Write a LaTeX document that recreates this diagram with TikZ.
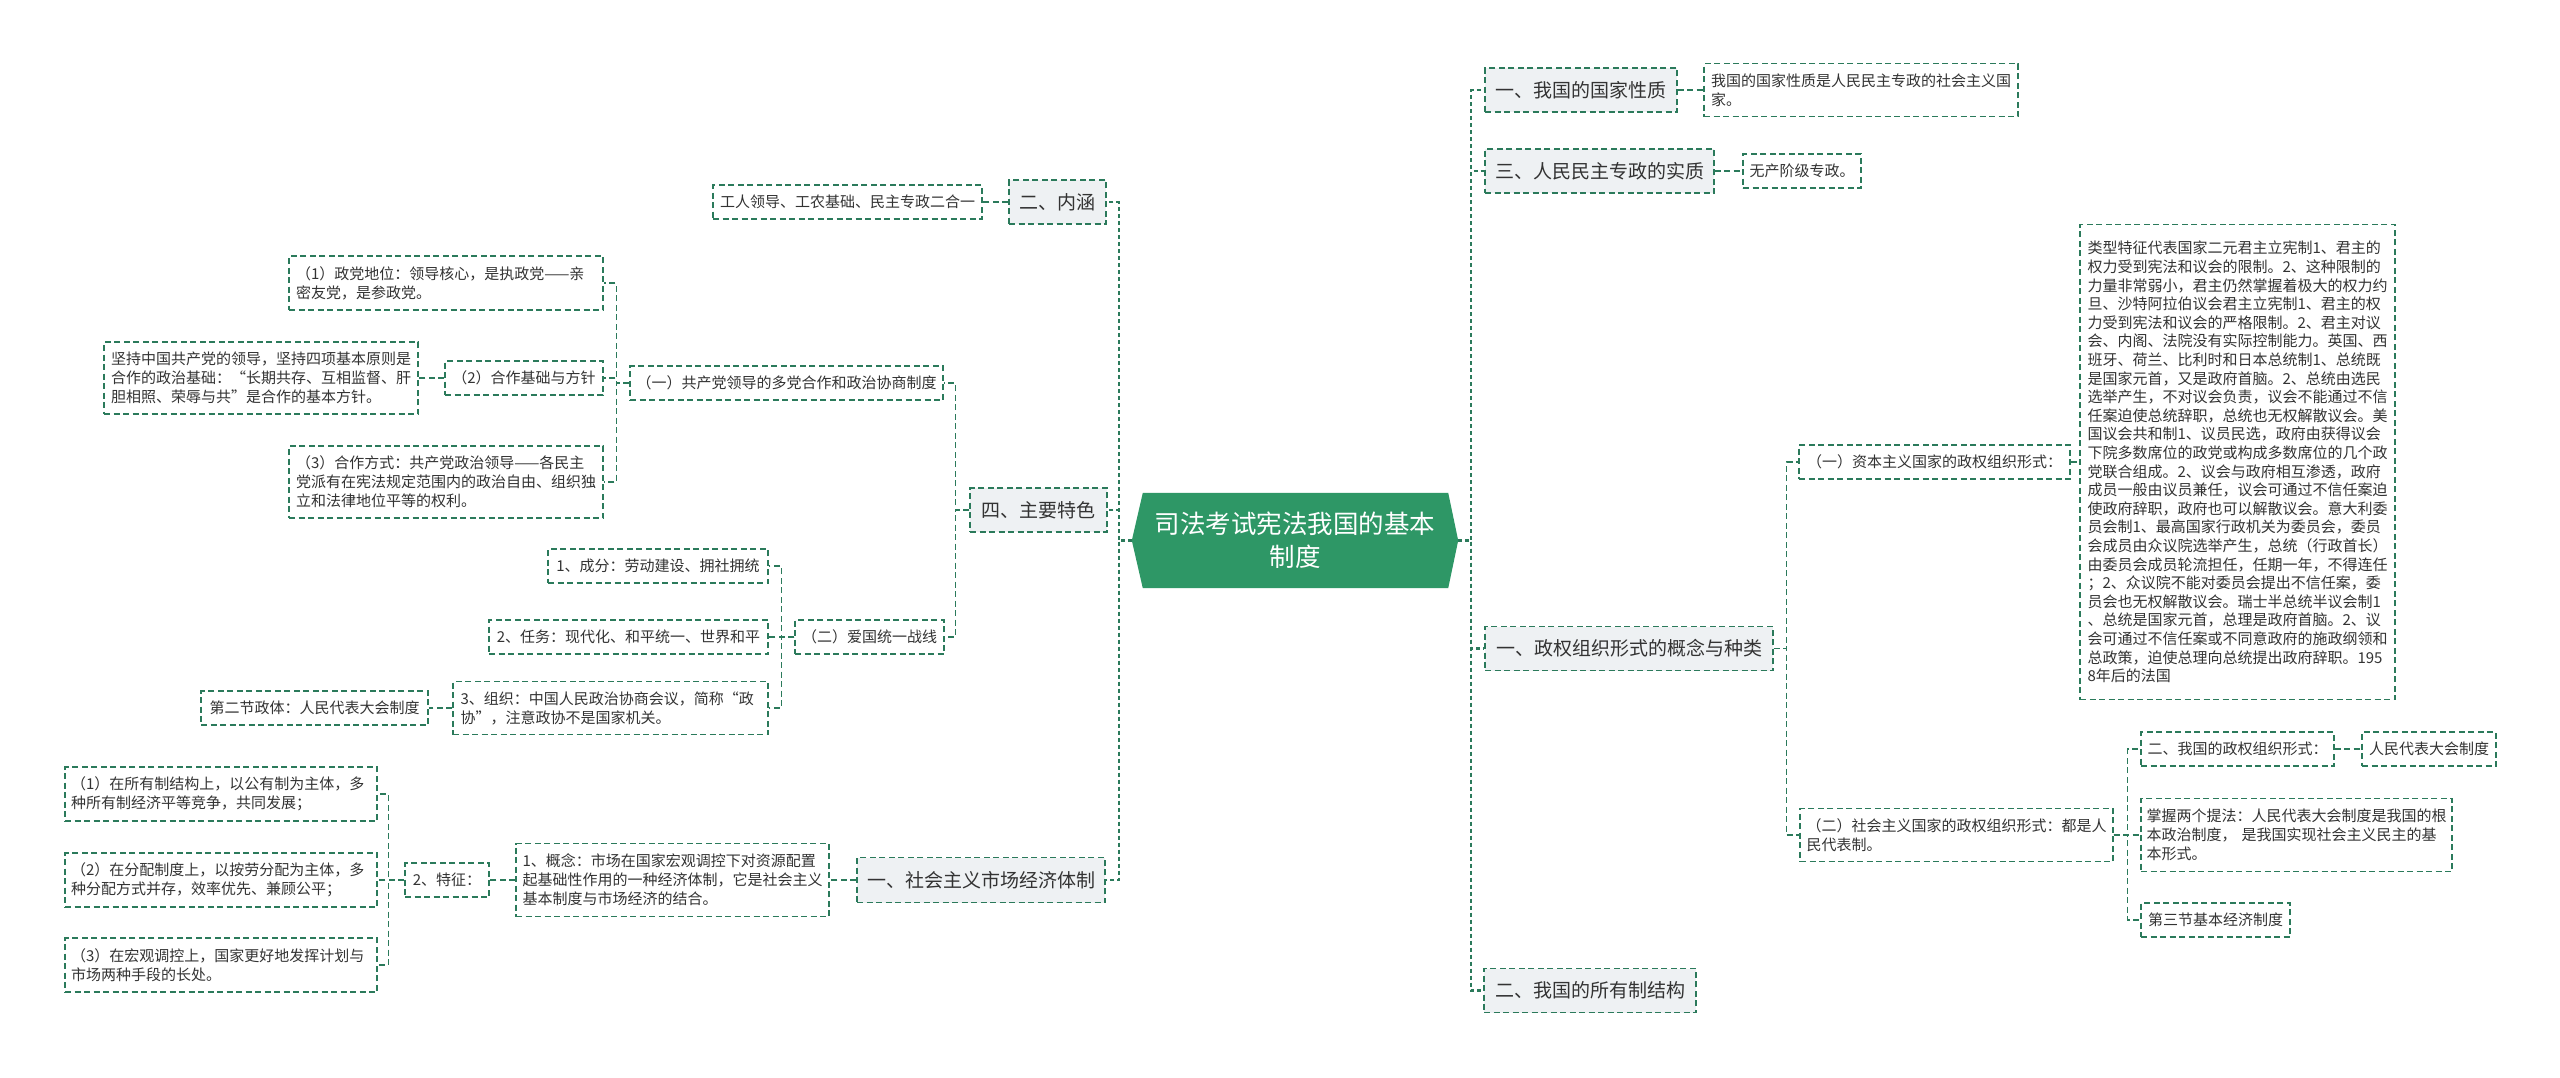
\documentclass[tikz,border=0pt]{standalone}
\usepackage{fontspec}
\setmainfont{Noto Sans CJK SC}
\usetikzlibrary{calc,backgrounds}
\definecolor{lc}{HTML}{2B7A5B}
\definecolor{rootc}{HTML}{2E9766}
\definecolor{lonefill}{HTML}{EEF1F3}
\definecolor{txt}{HTML}{333333}
\tikzset{
  box/.style={draw=lc, line width=1.3pt, dash pattern=on 6pt off 3.5pt, inner sep=0pt, text=txt, font=\fontsize{15}{19}\selectfont},
  lone/.style={box, fill=lonefill, font=\fontsize{19}{23}\selectfont},
  multi/.style={align=left, text width=300pt},
  conn/.style={draw=lc, line width=1.3pt, dash pattern=on 6pt off 3.5pt},
  trunk/.style={draw=lc, line width=2.2pt, dash pattern=on 4pt off 3pt},
  rootn/.style={inner sep=0pt, minimum width=326pt, minimum height=95pt, align=center, text=white, font=\fontsize{25.5}{33}\selectfont},
}
\begin{document}
\begin{tikzpicture}[x=1pt,y=-1pt]
\useasboundingbox (0,0) rectangle (2560,1077);

% root
\node[rootn] (root) at (1295,540.5) {司法考试宪法我国的基本\\制度};
\begin{scope}[on background layer]
\fill[white] (0,0) rectangle (2560,1077);
\fill[rootc] ($(root.north west)+(11,0)$) -- ($(root.north east)+(-10,0)$) -- (root.east) -- ($(root.south east)+(-10,0)$) -- ($(root.south west)+(11,0)$) -- (root.west) -- cycle;
\end{scope}

% ---------------- left side ----------------
\node[lone, minimum width=97pt, minimum height=44pt] (neihan) at (1057.5,202) {二、内涵};
\node[box, minimum width=269pt, minimum height=34pt] (gongren) at (847.5,202) {工人领导、工农基础、民主专政二合一};

\node[lone, minimum width=137pt, minimum height=44pt] (tese) at (1038.5,510) {四、主要特色};
\node[box, minimum width=313pt, minimum height=34pt] (yione) at (786.5,383) {（一）共产党领导的多党合作和政治协商制度};
\node[box, multi, minimum width=314pt, minimum height=54pt] (pone) at (446,283) {（1）政党地位：领导核心，是执政党——亲\\密友党，是参政党。};
\node[box, minimum width=158pt, minimum height=34pt] (ptwo) at (524,378) {（2）合作基础与方针};
\node[box, multi, minimum width=314pt, minimum height=72pt] (ptwoa) at (261,378) {坚持中国共产党的领导，坚持四项基本原则是\\合作的政治基础：“长期共存、互相监督、肝\\胆相照、荣辱与共”是合作的基本方针。};
\node[box, multi, minimum width=314pt, minimum height=72pt] (pthree) at (446,482) {（3）合作方式：共产党政治领导——各民主\\党派有在宪法规定范围内的政治自由、组织独\\立和法律地位平等的权利。};

\node[box, minimum width=149pt, minimum height=34pt] (erone) at (869.5,637) {（二）爱国统一战线};
\node[box, minimum width=220pt, minimum height=34pt] (cone) at (658,566) {1、成分：劳动建设、拥社拥统};
\node[box, minimum width=279pt, minimum height=34pt] (ctwo) at (628.5,637) {2、任务：现代化、和平统一、世界和平};
\node[box, multi, minimum width=315pt, minimum height=53pt] (cthree) at (610.5,708) {3、组织：中国人民政治协商会议，简称“政\\协”，注意政协不是国家机关。};
\node[box, minimum width=227pt, minimum height=34pt] (dier) at (314.5,708) {第二节政体：人民代表大会制度};

\node[lone, minimum width=248pt, minimum height=45pt] (shichang) at (981,880) {一、社会主义市场经济体制};
\node[box, multi, minimum width=313pt, minimum height=73pt] (gainian) at (672.5,880) {1、概念：市场在国家宏观调控下对资源配置\\起基础性作用的一种经济体制，它是社会主义\\基本制度与市场经济的结合。};
\node[box, minimum width=84pt, minimum height=34pt] (tezheng) at (447,880) {2、特征：};
\node[box, multi, minimum width=312pt, minimum height=54pt] (qone) at (221,794) {（1）在所有制结构上，以公有制为主体，多\\种所有制经济平等竞争，共同发展；};
\node[box, multi, minimum width=312pt, minimum height=54pt] (qtwo) at (221,880) {（2）在分配制度上，以按劳分配为主体，多\\种分配方式并存，效率优先、兼顾公平；};
\node[box, multi, minimum width=312pt, minimum height=54pt] (qthree) at (221,965) {（3）在宏观调控上，国家更好地发挥计划与\\市场两种手段的长处。};

% ---------------- right side ----------------
\node[lone, minimum width=192pt, minimum height=44pt] (xingzhi) at (1581,90) {一、我国的国家性质};
\node[box, multi, minimum width=314pt, minimum height=53pt] (xingzhit) at (1861,90) {我国的国家性质是人民民主专政的社会主义国\\家。};
\node[lone, minimum width=229pt, minimum height=44pt] (shizhi) at (1599.5,171) {三、人民民主专政的实质};
\node[box, minimum width=118pt, minimum height=34pt] (wuchan) at (1802,171) {无产阶级专政。};

\node[lone, minimum width=288pt, minimum height=44pt] (zhengquan) at (1629,648.5) {一、政权组织形式的概念与种类};
\node[box, minimum width=271pt, minimum height=34pt] (ziben) at (1934.5,462) {（一）资本主义国家的政权组织形式：};
\node[box, align=left, text width=300pt, minimum width=315pt, minimum height=475pt, font=\fontsize{15}{18.6}\selectfont] (big) at (2237.5,462) {类型特征代表国家二元君主立宪制1、君主的\\权力受到宪法和议会的限制。2、这种限制的\\力量非常弱小，君主仍然掌握着极大的权力约\\旦、沙特阿拉伯议会君主立宪制1、君主的权\\力受到宪法和议会的严格限制。2、君主对议\\会、内阁、法院没有实际控制能力。英国、西\\班牙、荷兰、比利时和日本总统制1、总统既\\是国家元首，又是政府首脑。2、总统由选民\\选举产生，不对议会负责，议会不能通过不信\\任案迫使总统辞职，总统也无权解散议会。美\\国议会共和制1、议员民选，政府由获得议会\\下院多数席位的政党或构成多数席位的几个政\\党联合组成。2、议会与政府相互渗透，政府\\成员一般由议员兼任，议会可通过不信任案迫\\使政府辞职，政府也可以解散议会。意大利委\\员会制1、最高国家行政机关为委员会，委员\\会成员由众议院选举产生，总统（行政首长）\\由委员会成员轮流担任，任期一年，不得连任\\；2、众议院不能对委员会提出不信任案，委\\员会也无权解散议会。瑞士半总统半议会制1\\、总统是国家元首，总理是政府首脑。2、议\\会可通过不信任案或不同意政府的施政纲领和\\总政策，迫使总理向总统提出政府辞职。195\\8年后的法国};
\node[box, multi, minimum width=313pt, minimum height=53pt] (shehui) at (1956.5,835) {（二）社会主义国家的政权组织形式：都是人\\民代表制。};
\node[box, minimum width=193pt, minimum height=34pt] (wogu) at (2237.5,749) {二、我国的政权组织形式：};
\node[box, minimum width=134pt, minimum height=34pt] (renda) at (2429,749) {人民代表大会制度};
\node[box, multi, minimum width=311pt, minimum height=73pt] (zhangwo) at (2296.5,835) {掌握两个提法：人民代表大会制度是我国的根\\本政治制度，\ 是我国实现社会主义民主的基\\本形式。};
\node[box, minimum width=149pt, minimum height=34pt] (disan) at (2215.5,920) {第三节基本经济制度};

\node[lone, minimum width=212pt, minimum height=44pt] (suoyou) at (1590,990.5) {二、我国的所有制结构};

% ---------------- connectors ----------------
\draw[trunk] (root.west) -- ++(-13,0) |- (neihan.east);
\draw[trunk] (root.west) -- ++(-13,0) |- (tese.east);
\draw[trunk] (root.west) -- ++(-13,0) |- (shichang.east);
\draw[trunk] (root.east) -- ++(13,0) |- (xingzhi.west);
\draw[trunk] (root.east) -- ++(13,0) |- (shizhi.west);
\draw[trunk] (root.east) -- ++(13,0) |- (zhengquan.west);
\draw[trunk] (root.east) -- ++(13,0) |- (suoyou.west);

\draw[conn] (neihan.west) -- (gongren.east);
\draw[conn] (tese.west) -- ++(-14,0) |- (yione.east);
\draw[conn] (tese.west) -- ++(-14,0) |- (erone.east);
\draw[conn] (yione.west) -- ++(-13,0) |- (pone.east);
\draw[conn] (yione.west) -- ++(-13,0) |- (ptwo.east);
\draw[conn] (yione.west) -- ++(-13,0) |- (pthree.east);
\draw[conn] (ptwo.west) -- (ptwoa.east);
\draw[conn] (erone.west) -- ++(-13,0) |- (cone.east);
\draw[conn] (erone.west) -- ++(-13,0) |- (ctwo.east);
\draw[conn] (erone.west) -- ++(-13,0) |- (cthree.east);
\draw[conn] (cthree.west) -- (dier.east);
\draw[conn] (shichang.west) -- (gainian.east);
\draw[conn] (gainian.west) -- (tezheng.east);
\draw[conn] (tezheng.west) -- ++(-16,0) |- (qone.east);
\draw[conn] (tezheng.west) -- ++(-16,0) |- (qtwo.east);
\draw[conn] (tezheng.west) -- ++(-16,0) |- (qthree.east);

\draw[conn] (xingzhi.east) -- (xingzhit.west);
\draw[conn] (shizhi.east) -- (wuchan.west);
\draw[conn] (zhengquan.east) -- ++(13,0) |- (ziben.west);
\draw[conn] (zhengquan.east) -- ++(13,0) |- (shehui.west);
\draw[conn] (ziben.east) -- (big.west);
\draw[conn] (shehui.east) -- ++(14,0) |- (wogu.west);
\draw[conn] (shehui.east) -- ++(14,0) |- (zhangwo.west);
\draw[conn] (shehui.east) -- ++(14,0) |- (disan.west);
\draw[conn] (wogu.east) -- (renda.west);
\end{tikzpicture}
\end{document}
